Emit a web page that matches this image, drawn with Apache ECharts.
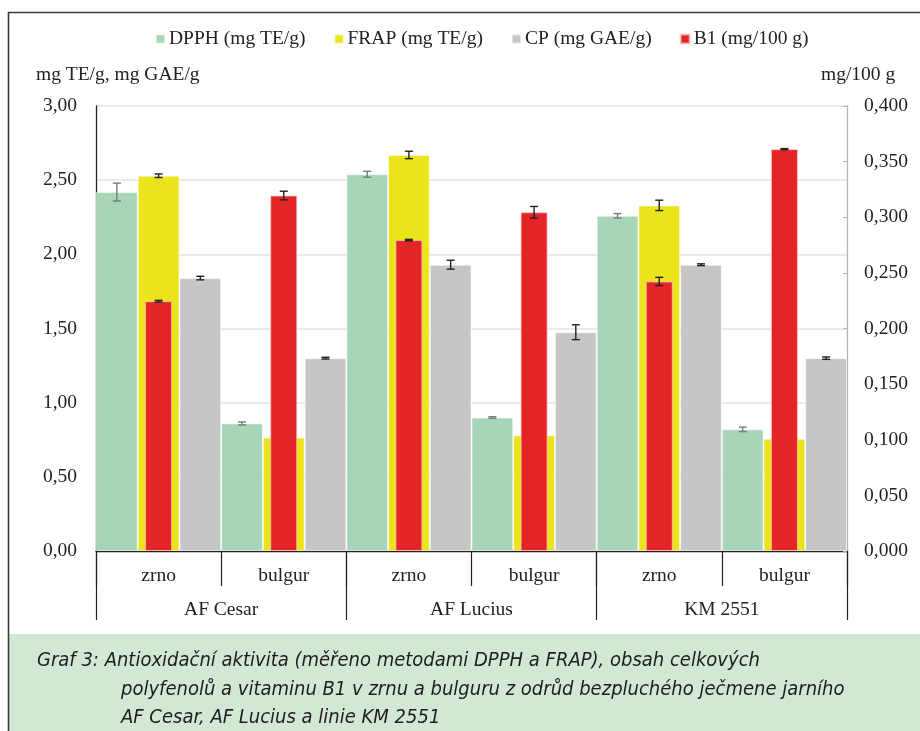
<!DOCTYPE html>
<html>
<head>
<meta charset="utf-8">
<script src="https://cdn.jsdelivr.net/npm/echarts@6/dist/echarts.min.js"></script>
<style>
  html, body { margin: 0; padding: 0; background: #fff; }
  #chart { width: 920px; height: 731px; }
</style>
</head>
<body>
<div id="chart"></div>
<script>
// Samples: grain (zrno) and bulgur for each barley variety / line
const samples = ['zrno', 'bulgur', 'zrno', 'bulgur', 'zrno', 'bulgur'];
const varieties = ['AF Cesar', 'AF Lucius', 'KM 2551'];

// Antioxidant activity and polyphenols (left axis)
const dpph = [2.42, 0.86, 2.54, 0.90, 2.26, 0.82];
const dpphErr = [0.06, 0.01, 0.02, 0.005, 0.015, 0.015];
const frap = [2.53, 0.765, 2.67, 0.78, 2.33, 0.757];
const frapErr = [0.012, 0.01, 0.025, 0.01, 0.035, 0.01];
const cp = [1.84, 1.30, 1.93, 1.475, 1.93, 1.30];
const cpErr = [0.012, 0.006, 0.03, 0.05, 0.006, 0.008];

// Vitamin B1 (right axis, mg/100 g)
const b1 = [0.2245, 0.3195, 0.2795, 0.3045, 0.2423, 0.3612];
const b1Err = [0.0008, 0.0039, 0.0006, 0.0052, 0.0037, 0.0005];

const leftTicks = { min: 0, max: 3, interval: 0.5 };
const rightTicks = { min: 0, max: 0.4, interval: 0.05 };

const names = ['DPPH (mg TE/g)', 'FRAP (mg TE/g)', 'CP (mg GAE/g)', 'B1 (mg/100 g)'];
const colors = ['#a7d5b8', '#ece41b', '#c5c6c8', '#e32528'];

const serif = '"Liberation Serif", "Times New Roman", serif';
const fs = 19.5;
const textColor = '#222';
const captionFont = 'italic 20px "Liberation Sans Narrow", "DejaVu Sans Condensed", "Liberation Sans", sans-serif';

function errData(vals, errs) {
  return vals.map((v, i) => [i, v, errs[i]]);
}

function errorBars(offsetFrac, color) {
  return function (params, api) {
    const i = api.value(0);
    const v = api.value(1);
    const e = api.value(2);
    const band = api.size([1, 0])[0];
    const c = api.coord([i, v]);
    const x = c[0] + offsetFrac * band;
    const yTop = api.coord([i, v + e])[1];
    const yBot = api.coord([i, v - e])[1];
    const w = 4;
    const st = { stroke: color, lineWidth: 1.4 };
    return {
      type: 'group',
      children: [
        { type: 'line', shape: { x1: x, y1: yTop, x2: x, y2: yBot }, style: st },
        { type: 'line', shape: { x1: x - w, y1: yTop, x2: x + w, y2: yTop }, style: st },
        { type: 'line', shape: { x1: x - w, y1: yBot, x2: x + w, y2: yBot }, style: st }
      ]
    };
  };
}

function barSeries(name, data, color, z) {
  return {
    name: name,
    type: 'bar',
    xAxisIndex: 0,
    yAxisIndex: 0,
    data: data,
    barGap: '0%',
    barCategoryGap: '0%',
    z: z,
    itemStyle: { color: color, borderColor: 'rgba(255,255,255,0.55)', borderWidth: 1 }
  };
}

const chart = echarts.init(document.getElementById('chart'));

chart.setOption({
  animation: false,
  backgroundColor: '#fff',
  grid: { left: 96, right: 73, top: 106, bottom: 180, containLabel: false },
  legend: {
    data: names,
    left: 150,
    top: 24,
    itemWidth: 9,
    itemHeight: 9,
    itemGap: 28,
    icon: 'rect',
    textStyle: { fontFamily: serif, fontSize: fs, color: textColor, padding: [0, 0, 0, -1] }
  },
  xAxis: [
    {
      type: 'category',
      data: samples,
      position: 'bottom',
      axisLine: { show: true, lineStyle: { color: '#222', width: 1.3 } },
      axisTick: { show: true, length: 35, lineStyle: { color: '#222', width: 1.2 } },
      axisLabel: { margin: 15, fontFamily: serif, fontSize: fs, color: textColor },
      splitLine: { show: false }
    },
    {
      type: 'category',
      data: varieties,
      position: 'bottom',
      axisLine: { show: false },
      axisTick: { show: true, length: 69, lineStyle: { color: '#222', width: 1.2 } },
      axisLabel: { margin: 49, fontFamily: serif, fontSize: fs, color: textColor },
      splitLine: { show: false }
    },
    {
      type: 'category',
      data: samples,
      show: false
    }
  ],
  yAxis: [
    {
      type: 'value',
      min: leftTicks.min,
      max: leftTicks.max,
      interval: leftTicks.interval,
      axisLine: { show: true, lineStyle: { color: '#222', width: 1.3 } },
      axisTick: { show: false },
      axisLabel: {
        margin: 19,
        fontFamily: serif, fontSize: fs, color: textColor,
        formatter: v => v.toFixed(2).replace('.', ',')
      },
      splitLine: { show: true, lineStyle: { color: '#e3e3e3', width: 1.6 } }
    },
    {
      type: 'value',
      min: rightTicks.min,
      max: rightTicks.max,
      interval: rightTicks.interval,
      position: 'right',
      axisLine: { show: true, lineStyle: { color: '#b4b4b4', width: 1.3 } },
      axisTick: { show: true, inside: true, length: 4, lineStyle: { color: '#b4b4b4' } },
      axisLabel: {
        margin: 17,
        fontFamily: serif, fontSize: fs, color: textColor,
        formatter: v => v.toFixed(3).replace('.', ',')
      },
      splitLine: { show: false }
    }
  ],
  series: [
    barSeries(names[0], dpph, colors[0], 2),
    barSeries(names[1], frap, colors[1], 2),
    barSeries(names[2], cp, colors[2], 2),
    {
      type: 'custom', name: 'dpph-err', xAxisIndex: 0, yAxisIndex: 0, z: 3,
      data: errData(dpph, dpphErr), encode: { x: 0, y: 1 },
      renderItem: errorBars(-1 / 3, '#7a7a7a'), silent: true
    },
    {
      type: 'custom', name: 'frap-err', xAxisIndex: 0, yAxisIndex: 0, z: 3,
      data: errData(frap, frapErr), encode: { x: 0, y: 1 },
      renderItem: errorBars(0, '#222'), silent: true
    },
    {
      type: 'custom', name: 'cp-err', xAxisIndex: 0, yAxisIndex: 0, z: 3,
      data: errData(cp, cpErr), encode: { x: 0, y: 1 },
      renderItem: errorBars(1 / 3, '#222'), silent: true
    },
    {
      name: names[3],
      type: 'bar',
      xAxisIndex: 2,
      yAxisIndex: 1,
      data: b1,
      barWidth: 27,
      z: 4,
      itemStyle: { color: colors[3], borderColor: 'rgba(255,200,200,0.7)', borderWidth: 1 }
    },
    {
      type: 'custom', name: 'b1-err', xAxisIndex: 2, yAxisIndex: 1, z: 5,
      data: errData(b1, b1Err), encode: { x: 0, y: 1 },
      renderItem: errorBars(0, '#222'), silent: true
    }
  ],
  graphic: [
    {
      type: 'rect', z: -10, silent: true,
      shape: { x: 9, y: 634, width: 915, height: 100 },
      style: { fill: '#d3e7d5' }
    },
    {
      type: 'polyline', z: 10, silent: true,
      shape: { points: [[8.5, 740], [8.5, 12.5], [925, 12.5]] },
      style: { stroke: '#3a3a3a', lineWidth: 1.6, fill: null }
    },
    {
      type: 'text', left: 36, top: 65, silent: true,
      style: { text: 'mg TE/g, mg GAE/g', font: fs + 'px ' + serif, fill: textColor }
    },
    {
      type: 'text', left: 821, top: 65, silent: true,
      style: { text: 'mg/100 g', font: fs + 'px ' + serif, fill: textColor }
    },
    {
      type: 'text', left: 37, top: 651, silent: true,
      style: {
        text: 'Graf 3: Antioxidační aktivita (měřeno metodami DPPH a FRAP), obsah celkových',
        font: captionFont, fill: '#1e1e1e'
      }
    },
    {
      type: 'text', left: 121, top: 680, silent: true,
      style: {
        text: 'polyfenolů a vitaminu B1 v zrnu a bulguru z odrůd bezpluchého ječmene jarního',
        font: captionFont, fill: '#1e1e1e'
      }
    },
    {
      type: 'text', left: 121, top: 708, silent: true,
      style: {
        text: 'AF Cesar, AF Lucius a linie KM 2551',
        font: captionFont, fill: '#1e1e1e'
      }
    }
  ]
});
</script>
</body>
</html>
